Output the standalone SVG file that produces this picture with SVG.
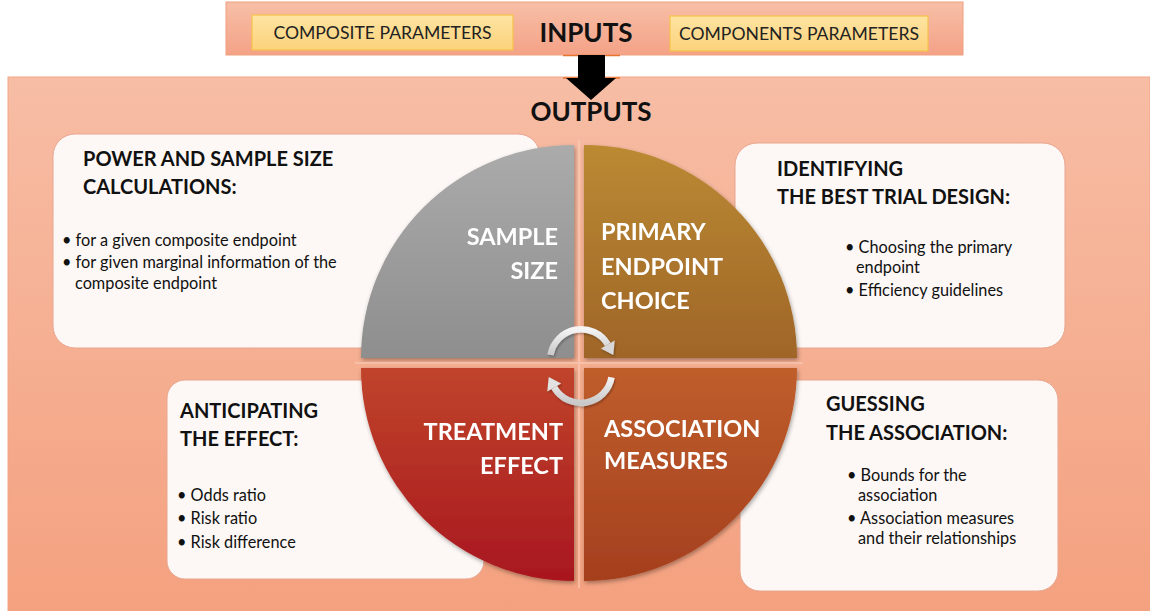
<svg xmlns="http://www.w3.org/2000/svg" width="1150" height="611" viewBox="0 0 1150 611">
<defs>
<linearGradient id="gBanner" x1="0" y1="0" x2="0" y2="1"><stop offset="0" stop-color="#f7bfa7"/><stop offset="1" stop-color="#f4a286"/></linearGradient>
<linearGradient id="gPanel" x1="0" y1="0" x2="0" y2="1"><stop offset="0" stop-color="#f7bda5"/><stop offset="1" stop-color="#f4a17f"/></linearGradient>
<linearGradient id="gIn" x1="0" y1="0" x2="0" y2="1"><stop offset="0" stop-color="#fee4a2"/><stop offset="1" stop-color="#fcd27c"/></linearGradient>
<linearGradient id="gGray" x1="0" y1="0" x2="0" y2="1"><stop offset="0" stop-color="#ababab"/><stop offset="1" stop-color="#8e8e8e"/></linearGradient>
<linearGradient id="gGold" x1="0" y1="0" x2="0" y2="1"><stop offset="0" stop-color="#bb8a33"/><stop offset="1" stop-color="#9f6528"/></linearGradient>
<linearGradient id="gRed" x1="0" y1="0" x2="0" y2="1"><stop offset="0" stop-color="#c0442b"/><stop offset="1" stop-color="#a8171f"/></linearGradient>
<linearGradient id="gOrg" x1="0" y1="0" x2="0" y2="1"><stop offset="0" stop-color="#bf5e2c"/><stop offset="1" stop-color="#a53f1e"/></linearGradient>
<linearGradient id="gArr" x1="0" y1="0" x2="0" y2="1"><stop offset="0" stop-color="#f4f4f4"/><stop offset="1" stop-color="#c9c9c9"/></linearGradient>
<filter id="sh" x="-10%" y="-10%" width="120%" height="120%"><feDropShadow dx="1" dy="2" stdDeviation="2" flood-color="#000" flood-opacity="0.35"/></filter>
<filter id="shs" x="-20%" y="-20%" width="140%" height="140%"><feDropShadow dx="1" dy="1.5" stdDeviation="1" flood-color="#000" flood-opacity="0.3"/></filter>
</defs>
<style>
.box{fill:#fdf8f5;stroke:#e8a58e;stroke-width:1}
.inbox{fill:url(#gIn);stroke:#f6c24a;stroke-width:1.2}
.big{font-family:Lato,"Liberation Sans",sans-serif;font-weight:bold;font-size:26px;fill:#111}
.inl{font-family:Lato,"Liberation Sans",sans-serif;font-size:17.6px;fill:#222}
.hd{font-family:Lato,"Liberation Sans",sans-serif;font-weight:bold;font-size:20px;fill:#111}
.bl{font-family:Lato,"Liberation Sans",sans-serif;font-size:16.3px;fill:#111}
.ql{font-family:Lato,"Liberation Sans",sans-serif;font-weight:bold;font-size:23.5px;fill:#fff}
.arc{fill:none;stroke:url(#gArr);stroke-width:6.5}
</style>
<rect width="1150" height="611" fill="#ffffff"/>
<g id="inputs">
<rect x="226" y="2" width="737" height="53" fill="url(#gBanner)" stroke="#f0a080" stroke-width="1"/>
<rect class="inbox" x="252" y="15" width="261" height="35"/>
<text class="inl" x="382.5" y="39" text-anchor="middle">COMPOSITE PARAMETERS</text>
<text class="big" x="586" y="42" text-anchor="middle">INPUTS</text>
<rect class="inbox" x="670" y="16" width="258" height="35"/>
<text class="inl" x="799" y="40" text-anchor="middle">COMPONENTS PARAMETERS</text>
</g>
<g id="outputs">
<rect x="8" y="77" width="1142" height="534" fill="url(#gPanel)" stroke="#f2a586" stroke-width="1"/>
<text class="big" x="591" y="121" text-anchor="middle">OUTPUTS</text>
</g>
<g id="connectors">
<line x1="563" y1="55.5" x2="620" y2="55.5" stroke="#e9742e" stroke-width="1.5"/>
<line x1="563" y1="78" x2="620" y2="78" stroke="#e9742e" stroke-width="1.5"/>
<polygon points="578,55 605,55 605,78 616,78 591,100 566,78 578,78" fill="#000"/>
</g>
<g id="box-power">
<rect class="box" x="53" y="134" width="487" height="214" rx="22"/>
<text class="hd" x="83" y="166">POWER AND SAMPLE SIZE</text>
<text class="hd" x="83" y="194">CALCULATIONS:</text>
<text class="bl" x="62" y="246">• for a given composite endpoint</text>
<text class="bl" x="62" y="268">• for given marginal information of the</text>
<text class="bl" x="75" y="289">composite endpoint</text>
</g>
<g id="box-design">
<rect class="box" x="735" y="143" width="330" height="205" rx="22"/>
<text class="hd" x="777" y="176">IDENTIFYING</text>
<text class="hd" x="777" y="204">THE BEST TRIAL DESIGN:</text>
<text class="bl" x="845" y="253">• Choosing the primary</text>
<text class="bl" x="856" y="273">endpoint</text>
<text class="bl" x="845" y="296">• Efficiency guidelines</text>
</g>
<g id="box-effect">
<rect class="box" x="167" y="380" width="317" height="199" rx="18"/>
<text class="hd" x="180" y="418">ANTICIPATING</text>
<text class="hd" x="180" y="446">THE EFFECT:</text>
<text class="bl" x="177" y="501">• Odds ratio</text>
<text class="bl" x="177" y="524">• Risk ratio</text>
<text class="bl" x="177" y="548">• Risk difference</text>
</g>
<g id="box-assoc">
<rect class="box" x="740" y="380" width="318" height="211" rx="20"/>
<text class="hd" x="826" y="411">GUESSING</text>
<text class="hd" x="826" y="440">THE ASSOCIATION:</text>
<text class="bl" x="847" y="481">• Bounds for the</text>
<text class="bl" x="858" y="501">association</text>
<text class="bl" x="847" y="524">• Association measures</text>
<text class="bl" x="858" y="544">and their relationships</text>
</g>
<g id="quad-sample" filter="url(#sh)">
<path d="M574,358 L361,358 A213,213 0 0 1 574,145 Z" fill="url(#gGray)"/>
<text class="ql" x="558" y="245" text-anchor="end">SAMPLE</text>
<text class="ql" x="558" y="279" text-anchor="end">SIZE</text>
</g>
<g id="quad-primary" filter="url(#sh)">
<path d="M584,358 L584,145 A213,213 0 0 1 797,358 Z" fill="url(#gGold)"/>
<text class="ql" x="601" y="240">PRIMARY</text>
<text class="ql" x="601" y="275">ENDPOINT</text>
<text class="ql" x="601" y="309">CHOICE</text>
</g>
<g id="quad-treatment" filter="url(#sh)">
<path d="M574,368 L574,581 A213,213 0 0 1 361,368 Z" fill="url(#gRed)"/>
<text class="ql" x="563" y="440" text-anchor="end">TREATMENT</text>
<text class="ql" x="563" y="474" text-anchor="end">EFFECT</text>
</g>
<g id="quad-association" filter="url(#sh)">
<path d="M584,368 L797,368 A213,213 0 0 1 584,581 Z" fill="url(#gOrg)"/>
<text class="ql" x="604" y="437">ASSOCIATION</text>
<text class="ql" x="604" y="469">MEASURES</text>
</g>
<g id="gaps" stroke="#f9cdb9" stroke-width="1.5" opacity="0.8">
<line x1="579" y1="140" x2="579" y2="588"/>
<line x1="355" y1="363" x2="803" y2="363"/>
</g>
<g id="cycle-arrows" filter="url(#shs)">
<path class="arc" d="M550.5,355 A31,31 0 0 1 607.8,344.5"/>
<polygon points="614.7,340.5 600.9,348.5 613.3,355" fill="#d8d8d8"/>
<path class="arc" d="M611.5,377.4 A31,31 0 0 1 554.2,387.5"/>
<polygon points="547.3,391.5 561.1,383.5 548.7,377" fill="#e2e2e2"/>
</g>
</svg>
